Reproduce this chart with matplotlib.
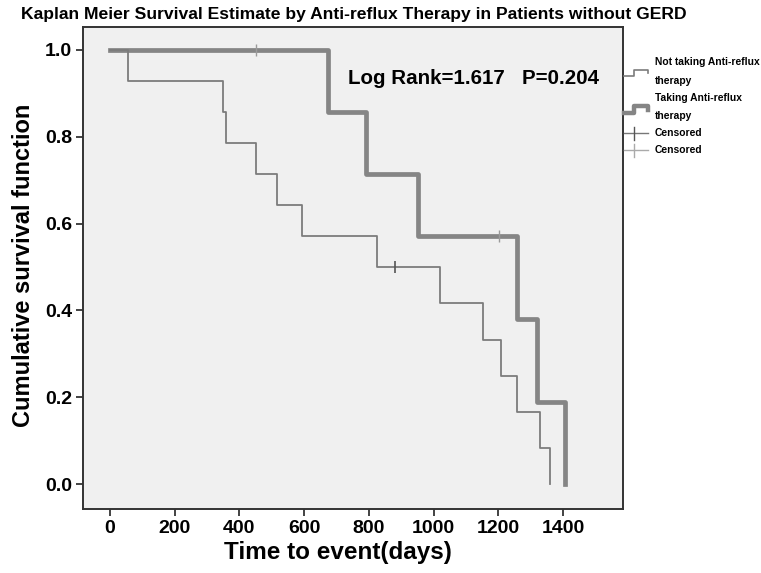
import matplotlib
matplotlib.use("Agg")
import matplotlib.pyplot as plt

plt.rcParams['font.family'] = ['Liberation Sans', 'DejaVu Sans']

# survival steps
not_taking_days = [0, 57, 350, 358, 450, 517, 592, 824, 1021, 1154, 1208, 1258, 1330, 1358]
not_taking_surv = [1.0, 0.929, 0.857, 0.786, 0.714, 0.643, 0.571, 0.5, 0.417, 0.333, 0.25, 0.167, 0.083, 0.0]
taking_days = [0, 675, 790, 953, 1258, 1320, 1405]
taking_surv = [1.0, 0.857, 0.714, 0.571, 0.381, 0.190, 0.0]

# censored observations
not_taking_cens_days = [880]
not_taking_cens_surv = [0.5]
taking_cens_days = [450, 1201]
taking_cens_surv = [1.0, 0.571]

x_ticks = [0, 200, 400, 600, 800, 1000, 1200, 1400]
y_ticks = [0.0, 0.2, 0.4, 0.6, 0.8, 1.0]

W, H = 761, 573
fig = plt.figure(figsize=(W / 100, H / 100), dpi=100)
fig.patch.set_facecolor('white')

ax = fig.add_axes([83 / W, 1 - 509 / H, (622.7 - 83) / W, (509 - 27.3) / H])
ax.set_facecolor('#f0f0f0')

thin_col = '#7c7c7c'
thick_col = '#858585'

ax.step(taking_days, taking_surv, where='post', color=thick_col, lw=3.4, zorder=3)
ax.step(not_taking_days, not_taking_surv, where='post', color=thin_col, lw=1.3, zorder=4)
ax.plot(taking_cens_days, taking_cens_surv, ls='none', marker='|', ms=9, mew=1.0,
        color='#9a9a9a', zorder=5)
ax.plot(not_taking_cens_days, not_taking_cens_surv, ls='none', marker='|', ms=9, mew=1.2,
        color='#555555', zorder=5)

ax.set_xlim(-83, 1584)
ax.set_ylim(-0.057, 1.052)
ax.set_xticks(x_ticks)
ax.set_yticks(y_ticks)
ax.set_yticklabels([f"{v:.1f}" for v in y_ticks])
ax.tick_params(axis='both', direction='out', length=5, width=1.2, color='#222222',
               labelsize=14, pad=3)
for lab in ax.get_xticklabels() + ax.get_yticklabels():
    lab.set_fontweight('bold')
for sp in ax.spines.values():
    sp.set_linewidth(1.4)
    sp.set_color('#333333')

ax.set_xlabel('Time to event(days)', fontsize=17.5, fontweight='bold')
ax.xaxis.set_label_coords((338 - 83) / (622.7 - 83), -(553 - 509) / (509 - 27.3))
ax.xaxis.label.set_va('center')
ax.set_ylabel('Cumulative survival function', fontsize=17, fontweight='bold')
ax.yaxis.set_label_coords(-(83 - 24) / (622.7 - 83), (509 - 265) / (509 - 27.3))
ax.yaxis.label.set_va('center')

ax.text((348 - 83) / (622.7 - 83), (509 - 79) / (509 - 27.3), 'Log Rank=1.617   P=0.204',
        transform=ax.transAxes, fontsize=14.8, fontweight='bold', ha='left', va='center')

fig.text(21 / W, 1 - 14 / H, 'Kaplan Meier Survival Estimate by Anti-reflux Therapy in Patients without GERD',
         fontsize=12.6, fontweight='bold', ha='left', va='center')

# legend drawn in pixel space to the right of the plot
lg = fig.add_axes([0, 0, 1, 1])
lg.set_xlim(0, W)
lg.set_ylim(H, 0)
lg.axis('off')
lg.patch.set_alpha(0)

lg.plot([624, 634, 634, 648, 648], [76, 76, 70, 70, 73], color=thin_col, lw=1.2)
lg.plot([624, 634, 634, 648, 648], [113, 113, 106, 106, 110], color=thick_col, lw=3.2)
lg.plot([624, 648], [133, 133], color='#777777', lw=1.0)
lg.plot([634, 634], [127, 140], color='#555555', lw=1.0)
lg.plot([624, 648], [150, 150], color='#aaaaaa', lw=1.0)
lg.plot([634, 634], [144, 157], color='#aaaaaa', lw=1.0)

leg_texts = ['Not taking Anti-reflux', 'therapy', 'Taking Anti-reflux', 'therapy', 'Censored', 'Censored']
leg_y = [62, 81, 98, 116, 133, 150]
for t, yy in zip(leg_texts, leg_y):
    lg.text(655, yy, t, fontsize=7.4, fontweight='bold', ha='left', va='center')

fig.savefig('out.png', dpi=100)
